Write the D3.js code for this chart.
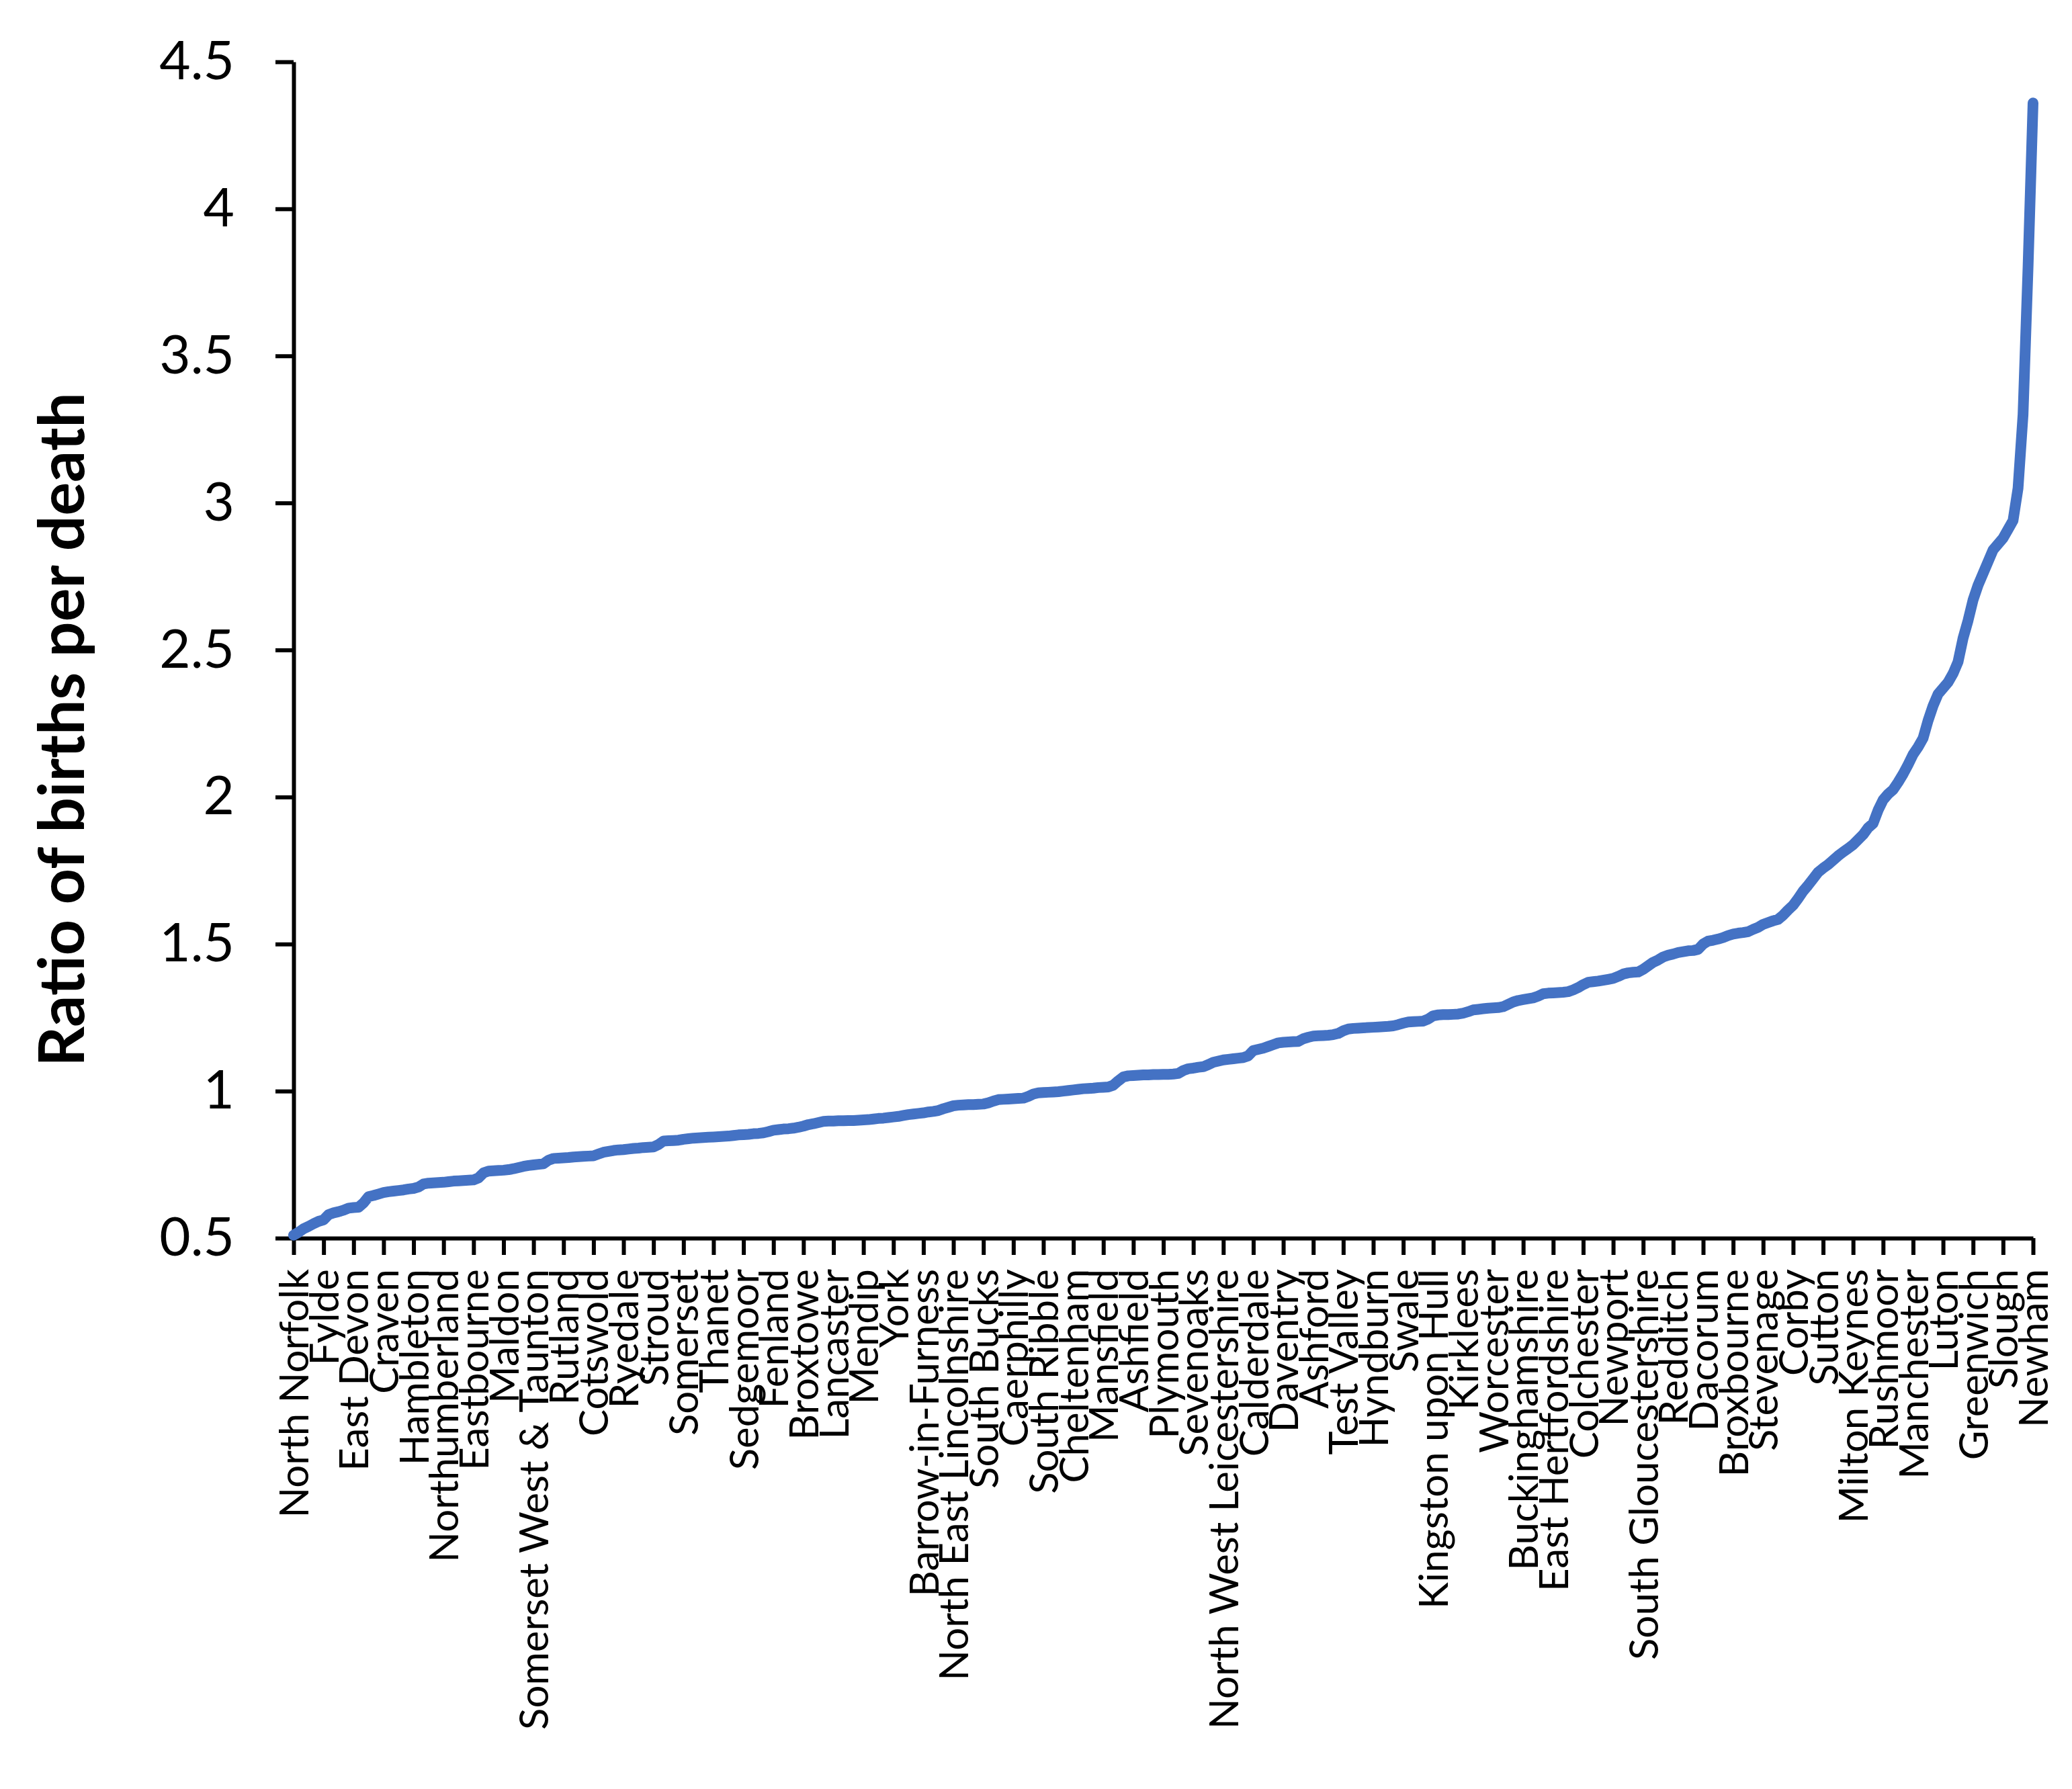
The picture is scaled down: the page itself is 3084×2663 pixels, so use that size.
<!DOCTYPE html>
<html lang="en">
<head>
<meta charset="utf-8" />
<title>Ratio of births per death</title>
<style>
  body { margin: 0; background: #fff; }
  .axis path, .axis line { stroke: #000; stroke-width: 6px; }
  .axis text { font-family: Lato, "Noto Sans", sans-serif; fill: #000; }
  .line { fill: none; stroke: #4472c4; stroke-width: 16px; stroke-linejoin: round; stroke-linecap: round; }
</style>
<script src="https://cdn.jsdelivr.net/npm/d3@7"></script>
</head>
<body>
<div id="chart"></div>
<script>
// labelled categories (every 6th local authority is labelled on the axis)
var labelNames = ["North Norfolk", "Fylde", "East Devon", "Craven", "Hambleton", "Northumberland",
  "Eastbourne", "Maldon", "Somerset West & Taunton", "Rutland", "Cotswold", "Ryedale", "Stroud",
  "Somerset", "Thanet", "Sedgemoor", "Fenland", "Broxtowe", "Lancaster", "Mendip", "York",
  "Barrow-in-Furness", "North East Lincolnshire", "South Bucks", "Caerphilly", "South Ribble",
  "Cheltenham", "Mansfield", "Ashfield", "Plymouth", "Sevenoaks", "North West Leicestershire",
  "Calderdale", "Daventry", "Ashford", "Test Valley", "Hyndburn", "Swale", "Kingston upon Hull",
  "Kirklees", "Worcester", "Buckinghamshire", "East Hertfordshire", "Colchester", "Newport",
  "South Gloucestershire", "Redditch", "Dacorum", "Broxbourne", "Stevenage", "Corby", "Sutton",
  "Milton Keynes", "Rushmoor", "Manchester", "Luton", "Greenwich", "Slough", "Newham"];
var labelEvery = 6;

// ratio of births per death, one value per local authority, sorted
var ratio = [
  0.51, 0.52, 0.532, 0.54, 0.549, 0.557, 0.562, 0.58, 0.586, 0.59,
  0.595, 0.602, 0.604, 0.605, 0.62, 0.641, 0.645, 0.65, 0.655, 0.658,
  0.66, 0.662, 0.664, 0.667, 0.669, 0.674, 0.684, 0.687, 0.688, 0.689,
  0.69, 0.692, 0.694, 0.695, 0.696, 0.697, 0.698, 0.705, 0.722, 0.728,
  0.729, 0.73, 0.731, 0.733, 0.736, 0.74, 0.744, 0.747, 0.749, 0.751,
  0.753, 0.765, 0.771, 0.772, 0.773, 0.774, 0.776, 0.777, 0.778, 0.779,
  0.78, 0.786, 0.792, 0.795, 0.798, 0.8, 0.801, 0.803, 0.805, 0.806,
  0.808, 0.809, 0.81, 0.818, 0.83, 0.831, 0.832, 0.833, 0.836, 0.838,
  0.84, 0.841, 0.842, 0.843, 0.844, 0.845, 0.846, 0.847, 0.849, 0.851,
  0.852, 0.853, 0.855, 0.856, 0.858, 0.862, 0.867, 0.869, 0.871, 0.872,
  0.874, 0.877, 0.881, 0.886, 0.889, 0.893, 0.897, 0.898, 0.898, 0.899,
  0.899, 0.9, 0.9, 0.901, 0.902, 0.903, 0.905, 0.907, 0.908, 0.91,
  0.912, 0.914, 0.917, 0.92, 0.922, 0.924, 0.926, 0.929, 0.931, 0.934,
  0.94, 0.945, 0.95, 0.952, 0.953, 0.954, 0.954, 0.955, 0.956, 0.96,
  0.966, 0.971, 0.972, 0.973, 0.974, 0.975, 0.976, 0.982, 0.99, 0.994,
  0.995, 0.996, 0.997, 0.998, 1.0, 1.002, 1.004, 1.006, 1.008, 1.009,
  1.01, 1.012, 1.013, 1.014, 1.02, 1.035, 1.048, 1.052, 1.053, 1.054,
  1.055, 1.055, 1.056, 1.056, 1.057, 1.057, 1.058, 1.06, 1.07, 1.076,
  1.078, 1.081, 1.083, 1.09, 1.098, 1.102, 1.106, 1.108, 1.11, 1.112,
  1.114, 1.12, 1.138, 1.142, 1.146, 1.152, 1.158, 1.164, 1.166, 1.167,
  1.168, 1.169, 1.178, 1.183, 1.187, 1.188, 1.189, 1.19, 1.192, 1.196,
  1.205, 1.211, 1.213, 1.214, 1.215, 1.216, 1.217, 1.218, 1.219, 1.22,
  1.222, 1.226, 1.231, 1.235, 1.236, 1.237, 1.238, 1.245, 1.256, 1.259,
  1.26, 1.26, 1.261, 1.262, 1.265, 1.27, 1.276, 1.278, 1.28, 1.282,
  1.283, 1.284, 1.287, 1.295, 1.303, 1.308, 1.311, 1.314, 1.317, 1.323,
  1.331, 1.333, 1.334, 1.335, 1.336, 1.338, 1.344, 1.352, 1.362, 1.37,
  1.372, 1.374, 1.377, 1.38, 1.383, 1.39, 1.398, 1.402, 1.404, 1.405,
  1.414, 1.426, 1.438, 1.446, 1.456, 1.462, 1.466, 1.471, 1.474, 1.477,
  1.478, 1.482, 1.5, 1.51, 1.513, 1.517, 1.522, 1.529, 1.534, 1.537,
  1.539, 1.542, 1.55, 1.557, 1.567, 1.573, 1.579, 1.584, 1.598, 1.616,
  1.632, 1.655, 1.68, 1.7, 1.722, 1.744, 1.758, 1.77, 1.785, 1.8,
  1.813, 1.825, 1.838, 1.855, 1.872, 1.895, 1.91, 1.955, 1.99, 2.01,
  2.025, 2.05, 2.078, 2.11, 2.145, 2.17, 2.2, 2.26, 2.31, 2.35,
  2.37, 2.39, 2.42, 2.46, 2.54, 2.6, 2.67, 2.72, 2.76, 2.8,
  2.84, 2.86, 2.88, 2.91, 2.94, 3.05, 3.3, 3.8, 4.36
];

var yTicks = [0.5, 1, 1.5, 2, 2.5, 3, 3.5, 4, 4.5];
var yTitle = "Ratio of births per death";

// dimensions and margins
var W = 3084, H = 2663;
var margin = {top: 92, right: 58, bottom: 820, left: 437},
    width = W - margin.left - margin.right,
    height = H - margin.top - margin.bottom;

var svg = d3.select("#chart").append("svg")
    .attr("width", W)
    .attr("height", H);

var g = svg.append("g")
    .attr("transform", "translate(" + margin.left + "," + margin.top + ")");

// scales
var idx = d3.range(ratio.length);
var x = d3.scalePoint().domain(idx).range([0, width]);
var y = d3.scaleLinear().domain([0.5, 4.5]).range([height, 0]);

// y axis
g.append("g")
    .attr("class", "axis")
    .call(d3.axisLeft(y)
      .tickValues(yTicks)
      .tickFormat(function(d) { return String(d); })
      .tickSize(27)
      .tickSizeOuter(0)
      .tickPadding(61))
  .selectAll("text")
    .style("font-size", "80px");

// x axis, ticks + labels only at labelled categories
var xAx = g.append("g")
    .attr("class", "axis")
    .attr("transform", "translate(0," + height + ")")
    .call(d3.axisBottom(x)
      .tickValues(idx.filter(function(i) { return i % labelEvery === 0; }))
      .tickFormat(function(i) { return labelNames[i / labelEvery]; })
      .tickSize(25)
      .tickSizeOuter(0));

xAx.selectAll("text")
    .style("font-size", "60px")
    .attr("text-anchor", "end")
    .attr("transform", "rotate(-90)")
    .attr("x", -46)
    .attr("y", 0)
    .attr("dy", "0.36em");

// the line
var valueline = d3.line()
    .x(function(d, i) { return x(i); })
    .y(function(d) { return y(d); });

g.append("path")
    .datum(ratio)
    .attr("class", "line")
    .attr("d", valueline);

// y axis title
svg.append("text")
    .attr("transform", "translate(125,1086) rotate(-90)")
    .attr("text-anchor", "middle")
    .style("font-family", "Lato, 'Noto Sans', sans-serif")
    .style("font-weight", "bold")
    .style("font-size", "93px")
    .text(yTitle);
</script>
</body>
</html>
